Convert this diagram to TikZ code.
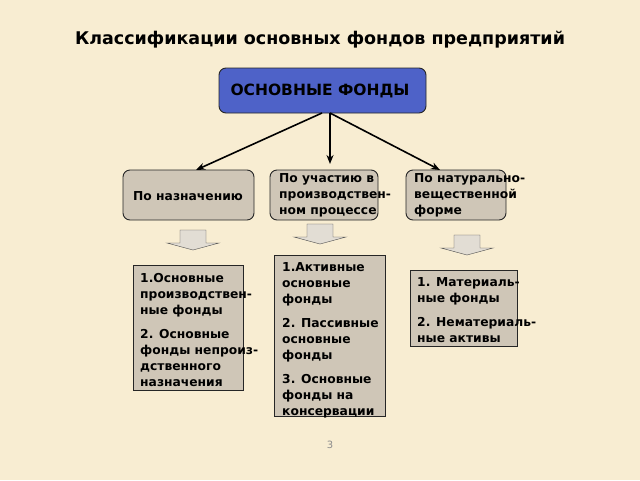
\documentclass[tikz,border=0pt]{standalone}
\usepackage{fontspec}
\setmainfont{DejaVu Sans}
\usetikzlibrary{arrows.meta}
\definecolor{bg}{HTML}{F8EDD2}
\definecolor{boxc}{HTML}{CFC6B7}
\definecolor{topc}{HTML}{4E62C8}
\tikzset{
 rbox/.style={draw=black!85,line width=0.9pt,fill=boxc,rounded corners=7pt},
 sbox/.style={draw=black!85,line width=0.9pt,fill=boxc},
 txt/.style={font=\bfseries\fontsize{12.3}{16}\selectfont,align=left,anchor=north west,inner sep=0pt},
 link/.style={-{Stealth[length=9pt,width=7pt]},line width=1.6pt},
 barrow/.style={draw=black!70,fill=boxc!60!white}
}
\begin{document}
\begin{tikzpicture}[x=1pt,y=-1pt]
\fill[bg] (0,0) rectangle (640,480);
\useasboundingbox (0,0) rectangle (640,480);
\node[font=\bfseries\fontsize{17.5}{20}\selectfont] (title) at (320,40) {Классификации основных фондов предприятий};
\draw[rbox,fill=topc] (219,68) rectangle (426,113);
\node[font=\bfseries\fontsize{15.5}{18}\selectfont] (top) at (320,91) {ОСНОВНЫЕ ФОНДЫ};
\draw[rbox] (123,170) rectangle (254,220);
\draw[rbox] (270,170) rectangle (378,220);
\draw[rbox] (406,170) rectangle (506,220);
\node[txt,anchor=center] (c1) at (188,196) {По назначению};
\node[txt] (c2) at (279,173) {По участию в\\производствен-\\ном процессе};
\node[txt] (c3) at (414,173) {По натурально-\\вещественной\\форме};
\coordinate (t1) at (322,113); \coordinate (t2) at (330,113);
\coordinate (e1) at (196,170); \coordinate (e2) at (330,164); \coordinate (e3) at (440,170);
\draw[link] (t1) -- (e1);
\draw[link] (t2) -- (e2);
\draw[link] (t2) -- (e3);
\foreach \x/\y in {193/230, 320/224, 467/235}{
 \draw[barrow] (\x-13,\y) -- (\x+13,\y) -- (\x+13,\y+13) -- (\x+26,\y+13) -- (\x,\y+20) -- (\x-26,\y+13) -- (\x-13,\y+13) -- cycle;
}
\draw[sbox] (133,265) rectangle (243,390);
\draw[sbox] (274,255) rectangle (385,416);
\draw[sbox] (410,270) rectangle (517,346);
\node[txt] (b1) at (140,273) {1.Основные\\производствен-\\ные фонды\\[8pt]2. Основные\\фонды непроиз-\\дственного\\назначения};
\node[txt] (b2) at (282,262) {1.Активные\\основные\\фонды\\[8pt]2. Пассивные\\основные\\фонды\\[8pt]3. Основные\\фонды на\\консервации};
\node[txt] (b3) at (417,277) {1. Материаль-\\ные фонды\\[8pt]2. Нематериаль-\\ные активы};
\node[font=\fontsize{10}{12}\selectfont,text=black!45] (pg) at (330,445) {3};
\end{tikzpicture}
\end{document}
